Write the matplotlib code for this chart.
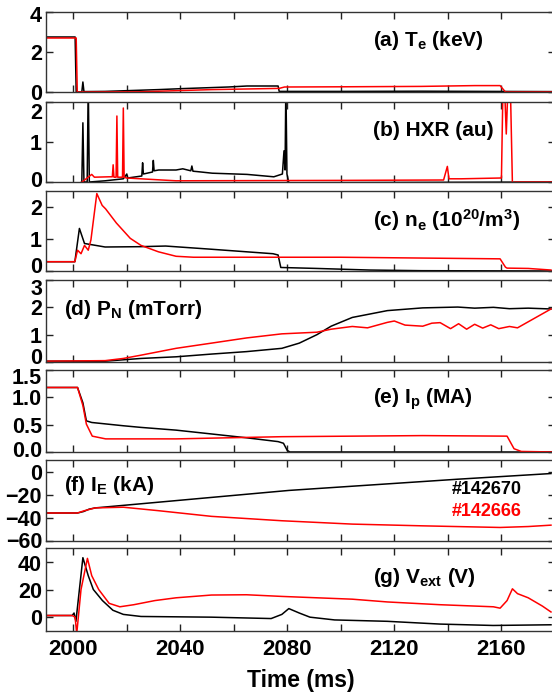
import numpy as np
import matplotlib
matplotlib.use("Agg")
import matplotlib.pyplot as plt
from matplotlib import font_manager
from matplotlib.ticker import MultipleLocator, FormatStrFormatter
from matplotlib.transforms import ScaledTranslation

# ---- data (time in ms) ----
te_670_t = [1990, 2000.8, 2001.2, 2003.3, 2003.7, 2004.1, 2012, 2032, 2041, 2058, 2065, 2076.6, 2077.0, 2100, 2130, 2180]
te_670 = [2.75, 2.75, 0.0, 0.0, 0.5, 0.02, 0.03, 0.12, 0.17, 0.25, 0.3, 0.3, 0.03, 0.03, 0.04, 0.02]
te_666_t = [1990, 2001.2, 2001.6, 2025, 2052, 2077, 2079, 2100, 2130, 2150, 2159.5, 2161.5, 2180]
te_666 = [2.7, 2.7, 0.0, 0.01, 0.12, 0.18, 0.25, 0.26, 0.28, 0.32, 0.32, 0.0, 0.0]

hxr_670_t = [1990, 2002.4, 2003.3, 2003.7, 2004.1, 2005.3, 2005.7, 2006.1, 2012, 2018.8, 2020.1, 2020.4,
             2025.7, 2026.0, 2026.3, 2029.7, 2030.0, 2030.3, 2032, 2038.5, 2041, 2044.0, 2044.4, 2044.8,
             2046.4, 2052, 2065, 2075, 2078.2, 2078.8, 2079.2, 2079.5, 2079.9, 2080.6, 2180]
hxr_670 = [-0.03, -0.03, 0.0, 1.48, 0.0, 0.0, 2.5, 0.0, 0.03, 0.08, 0.2, 0.1,
           0.15, 0.48, 0.2, 0.25, 0.54, 0.28, 0.3, 0.3, 0.33, 0.28, 0.4, 0.27,
           0.26, 0.22, 0.19, 0.13, 0.2, 0.78, 0.3, 2.5, 0.2, -0.02, 0.0]
hxr_666_t = [1990, 2003, 2007, 2008, 2013.5, 2014.7, 2015, 2015.3, 2016.1, 2016.4, 2016.7, 2018.5, 2018.8,
             2019.1, 2020, 2038.5, 2100, 2138.4, 2139.8, 2140.4, 2145, 2160, 2160.6, 2161.1, 2161.8,
             2162.5, 2163.3, 2164.1, 2165, 2180]
hxr_666 = [-0.02, -0.02, 0.19, 0.12, 0.13, 0.13, 0.43, 0.12, 0.12, 1.65, 0.12, 0.12, 1.85,
           0.12, 0.1, 0.03, 0.04, 0.05, 0.39, 0.08, 0.08, 0.1, 2.5, 2.5, 1.2,
           2.5, 2.5, -0.05, 0.0, 0.0]

ne_670_t = [1990, 2000.7, 2002.4, 2004.3, 2012, 2025, 2034.6, 2051.7, 2064.8, 2074.7, 2076.6, 2077.6, 2091, 2110.8, 2130, 2180]
ne_670 = [0.29, 0.29, 1.33, 0.86, 0.75, 0.76, 0.78, 0.68, 0.6, 0.54, 0.5, 0.11, 0.08, 0.03, 0.01, 0.0]
ne_666_t = [1990, 2000.7, 2001.7, 2003.0, 2004.3, 2005.7, 2006.7, 2008.9, 2010.9, 2012.2, 2016.2, 2021.4,
            2025.4, 2031.9, 2038.5, 2045, 2100, 2159.5, 2161.5, 2162.1, 2170, 2178.5]
ne_666 = [0.29, 0.29, 0.65, 0.54, 0.8, 0.65, 0.97, 2.42, 2.05, 1.94, 1.5, 1.02,
          0.8, 0.6, 0.46, 0.43, 0.43, 0.38, 0.12, 0.09, 0.08, 0.03]

pn_670_t = [1990, 2012, 2025.4, 2038.5, 2051.7, 2064.8, 2078, 2084.5, 2091.1, 2096.4, 2104.3, 2117.4,
            2130.6, 2143.7, 2150, 2157, 2163, 2170, 2178.5]
pn_670 = [0.03, 0.03, 0.13, 0.19, 0.29, 0.38, 0.5, 0.69, 1.0, 1.31, 1.63, 1.88,
          1.98, 2.01, 1.97, 2.0, 1.95, 1.97, 1.94]
pn_666_t = [1990, 2012, 2018.8, 2025.4, 2038.5, 2051.7, 2064.8, 2078, 2091.1, 2096.4, 2104.3, 2110,
            2117.4, 2120, 2124, 2130.6, 2134, 2137.1, 2141, 2144, 2147, 2150, 2153, 2156, 2159, 2163,
            2166, 2178.5]
pn_666 = [0.03, 0.05, 0.13, 0.25, 0.5, 0.69, 0.88, 1.03, 1.09, 1.2, 1.3, 1.25,
          1.45, 1.5, 1.35, 1.31, 1.42, 1.44, 1.22, 1.4, 1.2, 1.38, 1.24, 1.36, 1.22, 1.3,
          1.25, 1.94]

ip_670_t = [1990, 2001.7, 2003.7, 2005.0, 2007.0, 2018.8, 2025.4, 2038.5, 2051.7, 2064.8, 2076.6, 2078.6, 2080.0, 2081.0, 2180]
ip_670 = [1.18, 1.18, 0.9, 0.57, 0.54, 0.48, 0.45, 0.4, 0.33, 0.26, 0.19, 0.16, 0.03, 0.0, 0.0]
ip_666_t = [1990, 2001.7, 2003.7, 2005.0, 2007.2, 2012.2, 2038.5, 2058.2, 2078, 2104.3, 2130.6, 2162.1, 2164.7, 2167.4, 2180]
ip_666 = [1.18, 1.18, 0.85, 0.51, 0.29, 0.24, 0.24, 0.26, 0.28, 0.29, 0.3, 0.29, 0.06, 0.01, 0.0]

ie_670_t = [1990, 2001.7, 2004, 2006, 2008.3, 2080.6, 2143.7, 2178.5]
ie_670 = [-35.8, -35.8, -34.5, -32.5, -31.4, -16.3, -6.6, -1.7]
ie_666_t = [1990, 2001.7, 2004, 2008.3, 2018.8, 2031.9, 2051.7, 2078, 2104.3, 2130.6, 2159.5, 2170, 2178.5]
ie_666 = [-35.8, -35.8, -34, -31.4, -30.8, -33.8, -38.7, -42.5, -45.4, -46.9, -48.3, -47.5, -46.3]

vx_670_t = [1990, 1999.7, 2000.4, 2001.1, 2003.7, 2005.7, 2007.6, 2011, 2014.9, 2018.8, 2025.4, 2051.7,
            2074, 2078, 2080.6, 2084.5, 2088.5, 2097.7, 2117.4, 2137.1, 2156.9, 2178.5]
vx_670 = [1.2, 1.2, 3, -3, 43, 30, 20, 12, 5, 2, 0.5, 0,
          -1, 2, 6.2, 3, 0, -2, -3, -5, -6, -5.5]
vx_666_t = [1990, 1999.7, 2000.8, 2001.4, 2003.0, 2005.4, 2007.0, 2009.6, 2013.5, 2017.5, 2022.7, 2030.6,
            2038.5, 2051.7, 2064.8, 2078, 2104.3, 2117.4, 2137.1, 2157, 2159.5, 2162.1, 2164.1, 2166,
            2170, 2175.3, 2178.5]
vx_666 = [1.2, 1.2, 0, -12, 20, 42.5, 30, 20, 10, 7.5, 9, 12,
          14, 16, 16.2, 15, 13, 11, 9, 7.5, 6.5, 12, 20.5, 17,
          14, 8, 3.75]

shots = ["#142670", "#142666"]

names = {f.name for f in font_manager.fontManager.ttflist}
narrow = "Liberation Sans Narrow" if "Liberation Sans Narrow" in names else "Liberation Sans"

plt.rcParams["font.family"] = ["Liberation Sans", "DejaVu Sans"]
plt.rcParams["font.weight"] = "bold"
plt.rcParams["mathtext.fontset"] = "custom"
plt.rcParams["mathtext.rm"] = narrow + ":bold"
plt.rcParams["mathtext.bf"] = narrow + ":bold"
plt.rcParams["mathtext.it"] = narrow + ":bold"
plt.rcParams["mathtext.default"] = "bf"

# panel boxes in pixels (top, bottom)
boxes = [(12, 92), (102, 182), (191, 271), (280, 362), (370, 452), (460, 541), (548, 631)]
W, H = 552, 698
left_px, right_px = 46.2, 555.0

panels = [
    (te_670_t, te_670, te_666_t, te_666, (0, 4), [0, 2, 4], r"(a) T$_e$ (keV)", "right"),
    (hxr_670_t, hxr_670, hxr_666_t, hxr_666, (0, 2), [0, 1, 2], r"(b) HXR (au)", "right"),
    (ne_670_t, ne_670, ne_666_t, ne_666, (0, 2.5), [0, 1, 2], r"(c) n$_e$ (10$^{20}$/m$^3$)", "right"),
    (pn_670_t, pn_670, pn_666_t, pn_666, (0, 3), [0, 1, 2, 3], r"(d) P$_N$ (mTorr)", "left"),
    (ip_670_t, ip_670, ip_666_t, ip_666, (0, 1.5), [0, 0.5, 1.0, 1.5], r"(e) I$_p$ (MA)", "right"),
    (ie_670_t, ie_670, ie_666_t, ie_666, (-60, 10), [-60, -40, -20, 0], r"(f) I$_E$ (kA)", "left"),
    (vx_670_t, vx_670, vx_666_t, vx_666, (-10, 50), [0, 20, 40], r"(g) V$_{ext}$ (V)", "right"),
]

# vertical shifts (px, + is up) of the edge tick labels, as in the reference
nudges = [
    {4: -2},
    {2: -9, 0: 3},
    {0: 6},
    {3: -7, 0: 6},
    {1.5: -6, 0.0: 3},
    {-60: 1},
    {40: -1},
]

fig = plt.figure(figsize=(W / 100, H / 100), dpi=100)
axes = []
for (top, bot), (t1, y1, t2, y2, ylim, yticks, label, side), nudge in zip(boxes, panels, nudges):
    ax = fig.add_axes([left_px / W, 1 - bot / H, (right_px - left_px) / W, (bot - top) / H])
    ax.plot(t1, y1, color="black", lw=1.1)
    ax.plot(t2, y2, color="red", lw=1.1)
    ax.set_xlim(1990, 2180)
    ax.set_ylim(*ylim)
    ax.set_yticks(yticks)
    ax.xaxis.set_major_locator(MultipleLocator(40))
    ax.xaxis.set_minor_locator(MultipleLocator(20))
    ax.tick_params(which="both", direction="in", top=True, right=True, length=5, width=1,
                   labelsize=15.5, pad=3, color="#222222")
    ax.tick_params(axis="x", labelbottom=False)
    for s in ax.spines.values():
        s.set_linewidth(1.0)
        s.set_color("#333333")
    for val, tick in zip(yticks, ax.yaxis.get_major_ticks()):
        dy = nudge.get(val, 0)
        if dy:
            lab = tick.label1
            lab.set_transform(lab.get_transform() + ScaledTranslation(0, dy / 100, fig.dpi_scale_trans))
    xt = 0.035 if side == "left" else 0.642
    yt = 0.69 if label.startswith("(f)") else 0.64
    ax.text(xt, yt, label, transform=ax.transAxes, fontsize=15, fontweight="bold",
            family=[narrow, "DejaVu Sans"], va="center", ha="left")
    axes.append(ax)

axes[4].yaxis.set_major_formatter(FormatStrFormatter("%.1f"))
axes[5].text(0.935, 0.64, shots[0], transform=axes[5].transAxes, color="black", fontsize=13,
             fontweight="bold", family=[narrow, "DejaVu Sans"], ha="right", va="center")
axes[5].text(0.935, 0.36, shots[1], transform=axes[5].transAxes, color="red", fontsize=13,
             fontweight="bold", family=[narrow, "DejaVu Sans"], ha="right", va="center")

axes[-1].tick_params(axis="x", labelbottom=True, labelsize=16, pad=6)
axes[-1].set_xlabel("Time (ms)", fontsize=16.5, fontweight="bold", labelpad=6)

fig.savefig("out.png", dpi=100)
